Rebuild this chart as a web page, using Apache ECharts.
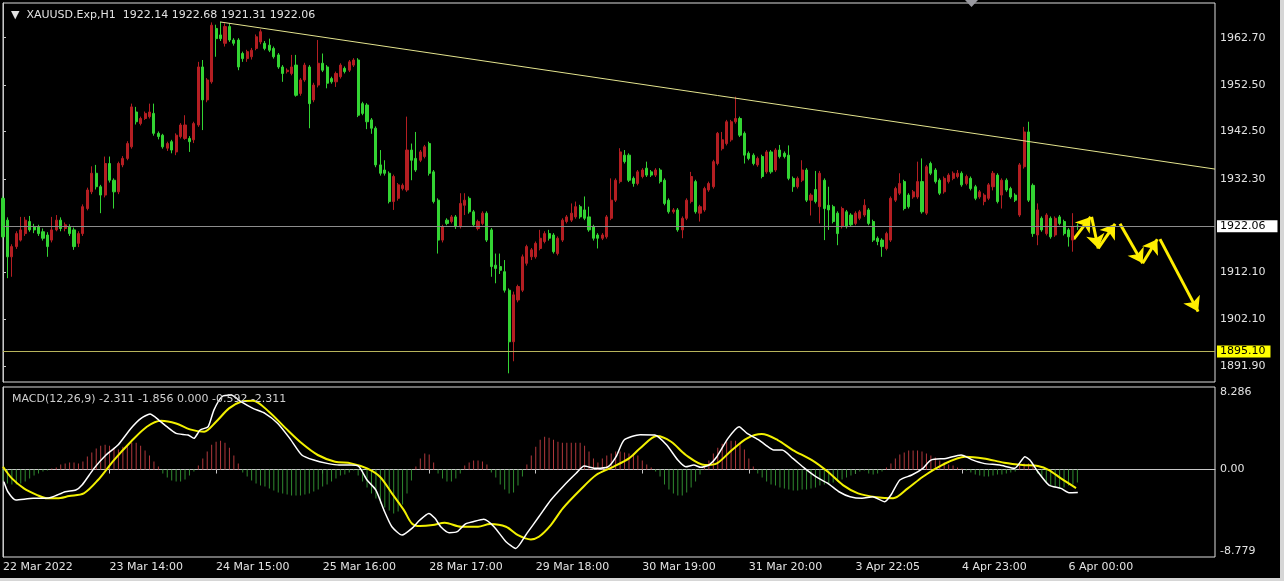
<!DOCTYPE html>
<html><head><meta charset="utf-8">
<script src="https://cdn.jsdelivr.net/npm/echarts@6/dist/echarts.min.js"></script>
<style>html,body{margin:0;padding:0;background:#000;overflow:hidden}#c{width:1284px;height:581px}</style>
</head><body><div id="c"></div>
<script>
// ---------- data ----------
const symbolName = 'XAUUSD.Exp,H1';
const lastOHLC = [1922.14, 1922.68, 1921.31, 1922.06];
const timeLabels = ['22 Mar 2022','23 Mar 14:00','24 Mar 15:00','25 Mar 16:00','28 Mar 17:00','29 Mar 18:00','30 Mar 19:00','31 Mar 20:00','3 Apr 22:05','4 Apr 23:00','6 Apr 00:00'];
const barsPerLabel = 24;
const totalSlots = 274;
const priceRange = [1888.53, 1970.18];
const priceTicks = [1962.70, 1952.50, 1942.50, 1932.30, 1912.10, 1902.10, 1891.90];
const bidPrice = 1922.06;
const supportPrice = 1895.10;
const trendLine = [[48.9, 1966.1], [273, 1934.4]];
const projection = [
  [[241.2,1919.3],[245.0,1924.1]],
  [[245.2,1924.1],[246.7,1917.3]],
  [[246.7,1917.3],[250.5,1922.6]],
  [[251.6,1922.6],[256.7,1914.1]],
  [[256.7,1914.1],[260.0,1919.3]],
  [[260.6,1919.3],[269.2,1903.7]]
];
// [open, close, low, high]
const candles = [
[1928.1,1919.8,1919.5,1928.5],[1923.4,1915.5,1910.9,1924.0],[1915.5,1917.7,1911.2,1918.2],[1917.7,1920.5,1917.2,1921.0],[1919.1,1921.3,1918.8,1924.1],
[1920.5,1923.4,1920.0,1924.1],[1923.1,1921.3,1920.9,1924.3],[1922.0,1921.3,1920.6,1922.6],[1922.0,1920.5,1920.0,1922.4],[1920.9,1919.5,1919.0,1921.6],
[1920.2,1917.7,1915.5,1920.8],[1919.1,1921.3,1918.6,1924.1],[1921.3,1923.4,1921.0,1924.5],[1923.4,1921.6,1921.0,1924.0],[1921.6,1922.4,1921.0,1922.9],
[1922.0,1920.5,1920.0,1922.5],[1921.3,1917.7,1917.0,1921.8],[1918.4,1920.5,1917.6,1921.0],[1920.5,1926.3,1920.0,1926.8],[1925.9,1929.9,1925.5,1930.4],
[1929.5,1933.5,1929.0,1935.0],[1933.5,1930.6,1930.0,1935.3],[1930.6,1928.8,1924.9,1931.0],[1928.8,1935.6,1928.3,1937.1],[1935.6,1932.0,1931.5,1937.1],
[1932.0,1929.5,1925.9,1932.4],[1929.5,1935.6,1929.0,1936.0],[1935.3,1936.7,1934.8,1937.2],[1936.7,1939.9,1936.3,1940.4],[1939.2,1947.8,1938.8,1948.5],
[1946.7,1944.6,1944.0,1947.8],[1944.2,1945.3,1943.8,1945.7],[1945.3,1946.4,1945.0,1946.8],[1945.7,1946.7,1945.3,1948.5],[1946.4,1942.1,1941.6,1948.5],
[1942.1,1941.4,1940.8,1942.5],[1941.7,1939.2,1938.8,1942.0],[1938.9,1939.9,1938.3,1940.3],[1940.3,1938.5,1937.8,1940.7],[1938.1,1941.7,1937.4,1942.1],
[1941.4,1943.9,1941.0,1944.3],[1941.0,1943.9,1940.7,1946.0],[1941.0,1940.3,1938.1,1941.5],[1940.7,1944.2,1940.0,1944.6],[1943.9,1956.4,1943.5,1957.5],
[1956.4,1949.3,1942.8,1957.9],[1949.3,1953.6,1948.8,1954.0],[1953.2,1965.4,1952.8,1966.0],[1964.7,1962.5,1958.6,1965.5],[1963.3,1962.5,1962.0,1966.1],
[1961.5,1965.1,1960.8,1965.8],[1965.1,1962.2,1961.8,1965.8],[1962.2,1961.5,1961.0,1962.6],[1962.2,1956.4,1955.7,1962.6],[1959.3,1958.2,1957.5,1959.7],
[1958.2,1959.7,1957.5,1960.1],[1958.6,1960.0,1958.0,1960.5],[1960.4,1962.9,1960.0,1963.4],[1961.8,1964.0,1961.3,1964.5],[1961.5,1960.4,1960.0,1962.0],
[1961.1,1960.0,1959.6,1962.5],[1960.4,1958.6,1958.2,1960.8],[1959.0,1956.4,1956.0,1959.4],[1956.4,1955.0,1953.2,1956.8],[1955.4,1955.7,1955.0,1956.1],
[1955.0,1956.4,1954.6,1959.0],[1956.8,1950.3,1950.0,1959.0],[1950.7,1953.6,1950.2,1954.0],[1953.6,1956.8,1953.2,1957.3],[1956.4,1948.5,1943.2,1956.8],
[1949.3,1952.5,1948.8,1953.0],[1952.5,1957.2,1952.0,1962.2],[1957.2,1955.7,1955.3,1959.3],[1956.4,1952.9,1951.8,1956.8],[1953.9,1953.2,1952.8,1954.3],
[1953.2,1955.0,1952.1,1955.4],[1954.3,1956.8,1953.9,1957.2],[1956.1,1955.4,1955.0,1956.5],[1955.7,1957.5,1955.3,1957.9],[1956.8,1957.9,1956.4,1958.3],
[1957.9,1946.0,1945.6,1958.3],[1948.5,1946.4,1946.0,1948.9],[1948.2,1944.6,1943.0,1948.6],[1945.0,1943.2,1942.0,1945.4],[1943.2,1935.3,1934.8,1943.6],
[1935.3,1933.5,1933.0,1938.5],[1934.2,1933.5,1933.0,1936.3],[1933.5,1927.4,1927.0,1933.9],[1927.4,1932.8,1925.6,1933.2],[1928.1,1931.0,1927.6,1931.4],
[1930.2,1930.9,1929.8,1931.3],[1929.9,1938.5,1929.5,1945.7],[1938.5,1936.3,1932.0,1939.9],[1936.7,1934.2,1933.8,1942.4],[1936.3,1938.1,1935.9,1938.5],
[1937.1,1939.2,1936.7,1939.6],[1939.9,1933.5,1933.0,1940.3],[1933.8,1927.4,1927.0,1934.2],[1927.7,1919.1,1916.2,1928.1],[1919.1,1922.0,1918.6,1922.4],
[1923.4,1922.7,1922.3,1923.8],[1923.1,1924.1,1922.7,1924.5],[1924.1,1922.0,1921.5,1924.5],[1922.0,1927.0,1921.6,1929.2],[1926.6,1927.7,1924.5,1929.2],
[1928.1,1925.2,1924.8,1928.5],[1925.2,1922.4,1922.0,1925.6],[1921.6,1923.1,1921.2,1923.5],[1922.7,1924.9,1922.3,1925.3],[1924.9,1919.1,1918.7,1925.3],
[1921.3,1913.4,1911.2,1921.7],[1913.7,1913.0,1909.8,1916.2],[1913.4,1912.6,1911.8,1916.2],[1912.3,1908.3,1907.8,1914.8],[1908.3,1897.2,1890.4,1908.7],
[1897.2,1907.3,1893.0,1908.0],[1906.2,1909.1,1905.7,1909.5],[1908.3,1915.5,1907.9,1916.0],[1914.1,1917.7,1913.6,1918.1],[1915.5,1917.0,1914.8,1917.4],
[1915.5,1918.4,1915.1,1918.8],[1917.3,1919.5,1916.9,1921.3],[1918.8,1920.5,1918.4,1921.0],[1920.5,1919.5,1919.0,1921.3],[1920.2,1916.6,1916.2,1920.6],
[1916.2,1919.5,1915.8,1919.9],[1919.1,1923.4,1918.7,1923.8],[1923.1,1924.1,1922.7,1924.5],[1923.4,1924.9,1923.0,1927.0],[1924.1,1926.3,1923.7,1927.4],
[1926.3,1924.1,1923.7,1926.7],[1925.6,1923.8,1923.4,1928.5],[1924.1,1921.3,1920.9,1926.3],[1922.0,1919.5,1919.0,1922.4],[1920.2,1919.5,1917.3,1920.6],
[1919.5,1920.2,1919.1,1920.6],[1919.8,1924.1,1919.4,1924.5],[1923.8,1927.7,1923.4,1932.4],[1927.7,1932.0,1927.3,1932.4],[1931.7,1938.1,1931.3,1938.9],
[1937.4,1936.0,1935.6,1938.5],[1937.4,1932.0,1931.6,1937.8],[1932.4,1931.3,1930.6,1932.8],[1931.3,1933.8,1930.9,1934.2],[1932.8,1934.2,1932.4,1934.6],
[1934.6,1933.1,1932.7,1936.0],[1933.8,1933.1,1932.7,1934.2],[1933.1,1934.2,1932.7,1934.6],[1934.2,1931.7,1931.3,1934.6],[1932.0,1927.0,1926.6,1932.4],
[1927.7,1925.2,1924.8,1928.1],[1925.2,1925.6,1924.8,1926.0],[1925.6,1921.3,1920.9,1926.0],[1921.3,1923.8,1919.5,1924.2],[1923.8,1927.7,1923.4,1928.1],
[1927.4,1932.8,1927.0,1933.8],[1931.7,1925.2,1924.8,1932.1],[1924.9,1926.3,1923.1,1926.7],[1925.6,1930.2,1925.2,1930.6],[1929.9,1931.3,1929.5,1931.7],
[1930.6,1936.0,1930.2,1936.4],[1935.6,1942.1,1935.2,1942.4],[1938.8,1940.7,1938.4,1942.4],[1939.9,1944.6,1939.5,1945.0],[1940.7,1944.6,1940.3,1945.0],
[1944.6,1945.3,1944.2,1950.0],[1945.3,1941.7,1941.3,1945.7],[1942.1,1937.4,1935.6,1942.5],[1937.8,1936.7,1936.3,1938.2],[1937.4,1935.6,1935.2,1937.8],
[1935.3,1936.7,1934.9,1937.1],[1937.1,1932.8,1932.4,1937.5],[1933.8,1938.1,1933.4,1938.5],[1938.1,1933.8,1933.4,1938.5],[1934.2,1938.5,1933.8,1938.9],
[1938.5,1937.1,1936.7,1939.6],[1937.8,1937.1,1936.7,1938.2],[1937.4,1932.4,1932.0,1939.5],[1932.4,1930.6,1929.5,1932.8],[1930.6,1932.4,1930.2,1932.8],
[1932.0,1934.2,1931.6,1936.3],[1934.2,1927.7,1927.3,1934.6],[1927.7,1928.8,1924.4,1929.2],[1930.0,1927.4,1927.0,1934.0],[1926.3,1933.5,1922.7,1934.0],
[1932.0,1925.9,1919.1,1932.4],[1926.6,1925.6,1921.3,1930.6],[1926.3,1923.1,1922.7,1926.7],[1924.9,1920.5,1918.0,1925.3],[1922.0,1925.9,1921.6,1926.3],
[1925.2,1922.0,1921.6,1925.6],[1924.5,1922.4,1922.0,1924.9],[1922.7,1924.9,1922.3,1925.3],[1923.8,1925.2,1923.4,1925.6],[1924.5,1926.6,1924.1,1927.9],
[1925.6,1922.7,1922.3,1926.0],[1923.1,1919.1,1918.7,1923.5],[1919.5,1918.8,1918.0,1919.9],[1919.1,1917.7,1915.5,1919.5],[1917.3,1920.5,1916.9,1920.9],
[1919.1,1928.1,1918.7,1928.5],[1927.7,1930.2,1927.3,1930.6],[1929.2,1931.3,1928.8,1933.5],[1931.7,1925.9,1925.5,1932.1],[1928.8,1926.3,1925.9,1929.2],
[1928.4,1929.5,1928.0,1929.9],[1928.4,1931.7,1928.0,1936.0],[1931.7,1925.2,1924.8,1936.7],[1924.9,1934.9,1924.5,1935.3],[1935.6,1933.5,1933.1,1936.0],
[1934.2,1931.7,1931.3,1934.6],[1932.0,1929.2,1928.8,1932.4],[1929.5,1932.4,1929.1,1932.8],[1931.7,1933.1,1931.3,1933.5],[1932.4,1933.5,1932.0,1933.9],
[1932.8,1933.5,1932.4,1934.2],[1933.5,1931.0,1930.6,1933.9],[1931.3,1932.8,1930.9,1933.2],[1932.4,1930.2,1929.8,1932.8],[1930.6,1928.1,1927.7,1931.0],
[1928.4,1929.5,1928.0,1929.9],[1927.4,1928.8,1926.6,1929.2],[1928.1,1931.0,1927.7,1931.4],[1930.6,1933.5,1929.8,1934.0],[1933.1,1927.4,1927.0,1933.5],
[1928.8,1932.0,1925.9,1932.4],[1932.0,1929.9,1929.5,1932.4],[1930.2,1928.4,1928.0,1930.6],[1928.8,1927.7,1927.3,1929.2],[1924.5,1935.3,1924.1,1935.7],
[1934.9,1942.4,1934.5,1943.5],[1942.4,1927.7,1927.3,1944.6],[1930.9,1920.5,1919.8,1931.3],[1920.2,1925.6,1918.0,1927.0],[1923.8,1921.3,1920.9,1924.2],
[1920.5,1924.5,1920.1,1924.9],[1923.8,1919.8,1919.4,1924.2],[1920.2,1923.8,1919.8,1924.2],[1924.1,1922.7,1922.3,1924.5],[1923.1,1920.5,1920.1,1923.5],
[1921.3,1919.8,1917.7,1921.7],[1919.1,1922.0,1916.6,1924.9],[1922.14,1922.06,1921.31,1922.68]
];
const macdLabel = 'MACD(12,26,9) -2.311 -1.856 0.000 -0.592 -2.311';
const macdRange = [-8.779, 8.286];
// [bar position, value]
const macdMain = [
[0.2,-1.22],[1.1,-2.23],[2.9,-3.06],[6.8,-2.89],[9.5,-2.89],[11.3,-2.73],[14.0,-2.23],[16.4,-2.06],[17.8,-1.56],[20.5,0.12],
[23.2,1.46],[25.9,2.46],[28.8,4.13],[31.1,5.14],[33.1,5.57],[35.1,4.97],[36.9,4.30],[39.0,3.63],[41.7,3.46],[43.0,3.13],
[44.4,3.97],[46.2,4.30],[47.5,5.97],[49.3,7.31],[51.4,7.48],[53.6,6.81],[56.3,6.14],[59.0,5.64],[61.9,4.63],[64.6,3.13],
[67.3,1.46],[70.0,0.95],[73.0,0.62],[75.7,0.45],[78.4,0.45],[80.2,0.28],[82.0,-1.05],[84.0,-2.06],[85.8,-4.07],[87.6,-5.74],
[89.9,-6.58],[92.1,-5.91],[93.9,-5.07],[95.9,-4.40],[97.3,-4.90],[98.6,-5.74],[100.5,-6.34],[102.3,-6.24],[104.1,-5.47],[105.9,-5.24],
[108.3,-5.00],[110.6,-5.74],[113.3,-7.25],[115.5,-7.92],[118.0,-6.41],[120.7,-4.74],[123.4,-3.06],[126.1,-1.72],[129.1,-0.38],[130.9,0.35],
[133.6,0.12],[136.3,0.28],[138.1,1.29],[139.9,2.96],[143.5,3.50],[146.8,3.46],[149.5,2.46],[152.0,0.95],[153.8,0.28],[155.6,0.45],
[157.2,0.22],[159.0,0.45],[160.8,1.29],[163.3,3.13],[165.8,4.30],[167.6,3.63],[170.3,2.96],[171.8,2.46],[173.6,1.96],[175.5,1.96],
[177.9,1.12],[180.6,0.12],[183.1,-0.72],[185.8,-1.39],[188.3,-2.23],[190.8,-2.73],[193.5,-2.89],[195.9,-2.73],[198.6,-3.23],[200.0,-2.56],
[202.0,-1.05],[204.7,-0.55],[207.2,0.12],[209.0,0.95],[212.4,1.12],[215.8,1.46],[218.5,0.95],[220.9,0.62],[224.5,0.45],[227.9,0.12],
[230.2,1.29],[231.3,0.95],[233.1,-0.22],[235.6,-1.56],[238.3,-1.89],[240.1,-2.33],[242.1,-2.311]
];
const macdSignal = [
[0,0.28],[2.0,-0.89],[4.7,-1.89],[7.7,-2.56],[9.9,-2.89],[12.2,-2.89],[14.9,-2.66],[18.2,-2.39],[21.4,-1.05],[25.0,0.95],
[28.8,2.79],[32.4,4.30],[35.6,4.90],[39.0,4.63],[42.1,4.03],[45.3,3.80],[48.0,4.80],[50.9,6.14],[53.6,6.81],[56.3,6.91],
[59.9,5.81],[63.7,4.13],[67.3,2.63],[70.9,1.46],[74.8,0.79],[78.4,0.62],[82.0,0.12],[84.9,-0.72],[87.6,-2.39],[90.3,-4.07],
[92.1,-5.41],[93.9,-5.67],[96.8,-5.57],[99.5,-5.34],[103.2,-5.74],[107.0,-5.74],[109.7,-5.47],[113.3,-5.74],[116.0,-6.58],[118.9,-7.01],
[120.7,-6.75],[123.4,-5.57],[126.1,-3.90],[130.0,-2.06],[133.6,-0.55],[137.2,0.22],[141.0,1.12],[143.5,2.13],[147.3,3.36],[150.5,2.79],
[153.8,1.46],[158.1,0.45],[160.8,0.62],[164.2,1.96],[167.6,3.13],[170.9,3.56],[174.5,2.96],[177.9,1.96],[182.2,0.95],[185.8,-0.22],
[189.2,-1.56],[192.6,-2.39],[196.8,-2.79],[200.5,-2.89],[203.8,-1.89],[207.2,-0.72],[211.5,0.45],[216.7,1.29],[220.9,1.12],[225.5,0.69],
[229.7,0.45],[233.1,0.35],[235.6,-0.05],[238.3,-0.89],[241.7,-1.856]
];
const macdHist = [
-1.1,-1.4,-1.5,-1.5,-1.4,-1.2,-0.9,-0.6,-0.4,-0.2,-0.1,
0.1,0.2,
0.5,0.6,0.7,0.7,0.6,0.8,
1.3,1.7,2.1,2.4,2.5,2.4,2.2,2.0,
2.3,2.5,2.7,2.7,2.4,1.9,1.4,0.8,0.3,
-0.4,-0.8,-1.1,-1.2,-1.2,-1.0,-0.6,-0.2,
0.4,1.1,1.8,2.5,2.8,2.9,2.7,2.2,1.4,0.6,
-0.3,-0.7,-1.1,-1.4,-1.6,-1.7,-1.9,-2.1,-2.3,-2.4,-2.5,-2.6,-2.6,-2.6,-2.5,-2.4,-2.2,-2.0,-1.7,-1.5,-1.2,-0.9,-0.6,-0.5,-0.3,-0.1,
-0.6,-1.2,-1.8,-2.4,-2.9,-3.4,-3.8,-4.1,-4.4,-4.2,-3.5,-2.4,-1.1,
0.3,1.1,1.6,1.5,0.7,
-0.4,-0.9,-1.2,-1.2,-0.9,-0.4,
0.4,0.7,0.9,0.9,0.8,0.5,
-0.3,-0.8,-1.5,-2.0,-2.4,-2.3,-1.6,-0.7,
0.5,1.4,2.3,3.0,3.3,3.2,3.0,2.8,2.7,2.7,2.7,2.7,2.7,2.4,1.8,1.1,
0.7,1.1,1.4,1.6,1.8,1.8,1.7,1.6,1.6,1.4,0.9,0.5,0.2,
-0.2,-0.7,-1.5,-2.0,-2.4,-2.6,-2.6,-2.3,-1.8,-1.2,-0.5,
0.3,0.9,1.6,2.2,2.6,2.8,2.9,2.9,2.7,2.0,1.1,0.3,
-0.4,-0.8,-1.2,-1.5,-1.6,-1.8,-1.9,-2.0,-2.1,-2.1,-2.0,-2.0,-1.9,-1.8,-1.6,-1.5,-1.4,-1.3,-1.2,-1.0,-0.8,-0.6,-0.4,-0.2,
-0.1,-0.4,-0.5,-0.4,-0.2,
0.2,0.6,1.1,1.5,1.7,1.9,1.9,1.9,1.8,1.6,1.4,1.2,0.9,0.7,0.5,0.4,0.2,0.1,
-0.1,-0.3,-0.5,-0.6,-0.7,-0.7,-0.6,-0.5,-0.5,-0.4,-0.3,-0.2,
0.4,0.6,0.6,0.3,
-0.4,-0.8,-1.3,-1.6,-1.8,-1.9,-1.8,-1.6,-1.5,-1.3
];

// ---------- chart ----------
const FONT = 'DejaVu Sans';
const TXT = '#e2e2e2';
const AX = '#c8c8c8';
const UP = '#b41e22';
const DOWN = '#33d433';
const cats = Array.from({length: totalSlots}, (_, i) => String(i));
const isLabel = i => i % barsPerLabel === 0 && i / barsPerLabel < timeLabels.length;

const chart = echarts.init(document.getElementById('c'), null, {renderer: 'canvas'});
chart.setOption({
  backgroundColor: '#000',
  animation: false,
  title: [
    {text: '\u25BC  ' + symbolName + '  ' + lastOHLC.map(v => v.toFixed(2)).join(' '), left: 6, top: 5,
     textStyle: {color: TXT, fontSize: 11, fontWeight: 'normal', fontFamily: FONT}},
    {text: macdLabel, left: 7, top: 389,
     textStyle: {color: '#d0d0d0', fontSize: 11, fontWeight: 'normal', fontFamily: FONT}}
  ],
  grid: [
    {left: 3, right: 69, top: 3, height: 379, show: true, borderColor: '#dcdcdc', borderWidth: 1},
    {left: 3, right: 69, top: 387, height: 170, show: true, borderColor: '#dcdcdc', borderWidth: 1}
  ],
  xAxis: [
    {type: 'category', gridIndex: 0, data: cats, boundaryGap: false,
     axisLine: {show: false}, axisTick: {show: false}, axisLabel: {show: false}, splitLine: {show: false}},
    {type: 'value', gridIndex: 0, min: 0, max: totalSlots - 1, show: false},
    {type: 'category', gridIndex: 1, data: cats, boundaryGap: false,
     axisLine: {show: true, lineStyle: {color: AX}},
     axisTick: {show: true, interval: i => isLabel(i), length: 4, lineStyle: {color: AX}},
     axisLabel: {interval: i => isLabel(i), formatter: v => timeLabels[Number(v) / barsPerLabel] || '',
                 align: 'left', margin: 5, color: TXT, fontSize: 11, fontFamily: FONT},
     splitLine: {show: false}},
    {type: 'value', gridIndex: 1, min: 0, max: totalSlots - 1, show: false}
  ],
  yAxis: [
    {type: 'value', gridIndex: 0, position: 'right', min: priceRange[0], max: priceRange[1],
     axisLine: {show: true, lineStyle: {color: AX}},
     axisTick: {show: true, customValues: priceTicks, length: 3, lineStyle: {color: AX}},
     axisLabel: {customValues: priceTicks, formatter: v => v.toFixed(2), color: TXT, fontSize: 11, fontFamily: FONT, margin: 5},
     splitLine: {show: false}},
    {type: 'value', gridIndex: 1, position: 'right', min: macdRange[0], max: macdRange[1],
     axisLine: {show: true, lineStyle: {color: AX}},
     axisTick: {show: true, customValues: [0], length: 3, lineStyle: {color: AX}},
     axisLabel: {customValues: [macdRange[1], 0, macdRange[0]],
                 formatter: v => v === 0 ? '0.00' : v.toFixed(3),
                 verticalAlignMaxLabel: 'bottom', verticalAlignMinLabel: 'top',
                 color: TXT, fontSize: 11, fontFamily: FONT, margin: 5},
     splitLine: {show: false}}
  ],
  series: [
    {type: 'candlestick', xAxisIndex: 0, yAxisIndex: 0, data: candles, barWidth: 2.6,
     itemStyle: {color: UP, color0: DOWN, borderColor: UP, borderColor0: DOWN, borderWidth: 1},
     markLine: {silent: true, symbol: 'none', animation: false,
       data: [
         {yAxis: bidPrice, lineStyle: {color: '#8c8c8c', width: 1, type: 'solid'},
          label: {show: true, position: 'end', formatter: bidPrice.toFixed(2), backgroundColor: '#ffffff', color: '#000',
                  padding: [1, 12, 0, 3], fontSize: 11, fontFamily: FONT, distance: 2}},
         {yAxis: supportPrice, lineStyle: {color: '#b8b45c', width: 1, type: 'solid'},
          label: {show: true, position: 'end', formatter: supportPrice.toFixed(2), backgroundColor: '#ffff00', color: '#000',
                  padding: [1, 5, 0, 3], fontSize: 11, fontFamily: FONT, distance: 2}}
       ]}},
    {type: 'line', xAxisIndex: 1, yAxisIndex: 0, data: trendLine, symbol: 'none', silent: true,
     lineStyle: {color: '#e4e48e', width: 1}},
    {type: 'lines', coordinateSystem: 'cartesian2d', xAxisIndex: 1, yAxisIndex: 0, silent: true,
     data: projection.map(c => ({coords: c})), symbol: ['none', 'arrow'], symbolSize: [1, 14],
     lineStyle: {color: '#ffee00', width: 3, opacity: 1, curveness: 0}},
    {type: 'bar', xAxisIndex: 2, yAxisIndex: 1, data: macdHist, barWidth: 1, silent: true,
     itemStyle: {color: p => p.value >= 0 ? '#b0383c' : '#2f8a2f'}},
    {type: 'line', xAxisIndex: 3, yAxisIndex: 1, data: macdSignal, symbol: 'none', smooth: 0.3, silent: true,
     lineStyle: {color: '#f2f000', width: 2}},
    {type: 'line', xAxisIndex: 3, yAxisIndex: 1, data: macdMain, symbol: 'none', smooth: 0.2, silent: true,
     lineStyle: {color: '#ffffff', width: 1.5}}
  ],
  graphic: [
    {type: 'polygon', shape: {points: [[965, 0], [978, 0], [971.5, 7]]}, style: {fill: '#9a9aa0'}, silent: true},
    {type: 'rect', shape: {x: 1280, y: 0, width: 4, height: 581}, style: {fill: '#d6d6d6'}, silent: true},
    {type: 'rect', shape: {x: 0, y: 578, width: 1284, height: 3}, style: {fill: '#d6d6d6'}, silent: true}
  ]
});
</script>
</body></html>
